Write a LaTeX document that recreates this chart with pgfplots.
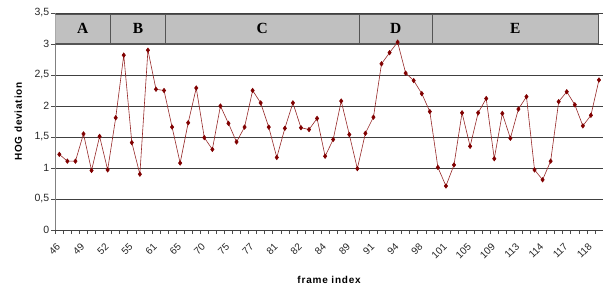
\documentclass[border=0pt]{standalone}
\usepackage{fontspec}
\setmainfont{Liberation Sans}
\newfontfamily\serifb{Liberation Serif}
\usepackage{pgfplots}
\pgfplotsset{compat=1.18}
\definecolor{dred}{RGB}{128,0,0}
\definecolor{dline}{RGB}{150,40,40}
\definecolor{bandgray}{RGB}{192,192,192}
\definecolor{bandedge}{RGB}{85,85,85}
\begin{document}
\begin{tikzpicture}
\path[use as bounding box] (-55.3pt,-62pt) rectangle (547.7pt,230pt);
\begin{axis}[
  at={(0,0)}, anchor=south west,
  scale only axis, width=547.7pt, height=217pt,
  xmin=-0.5, xmax=67.5, ymin=0, ymax=3.5,
  axis x line*=bottom, axis y line*=left,
  x axis line style={black!75, line width=0.8pt},
  y axis line style={gray, line width=1pt},
  tick align=outside,
  ytick={0,0.5,...,3.5},
  ymajorgrids, grid style={black!75, line width=0.6pt},
  major tick length=4pt, minor tick length=4pt,
  ytick style={black!70, line width=0.6pt},
  /pgf/number format/use comma,
  /pgf/number format/assume math mode=true,
  yticklabel style={font=\fontsize{10.5}{12}\selectfont, text=black!85, inner sep=2pt},
  xtick={0,3,...,66},
  xticklabels={46,49,52,55,61,65,70,75,77,81,82,84,89,91,94,98,101,105,109,113,114,117,118},
  major x tick style={draw=none},
  minor xtick={-0.5,0.5,...,67.5},
  minor x tick style={black!70, line width=0.6pt},
  xticklabel style={font=\fontsize{10}{12}\selectfont, rotate=45, anchor=east, inner sep=1pt, text=black!85},
  xticklabel shift=10pt,
  every axis y label/.style={at={(axis description cs:-0.0676,0.5)}, rotate=90, anchor=center,
     font=\bfseries\fontsize{10}{12}\selectfont\addfontfeature{LetterSpace=8}},
  every axis x label/.style={at={(axis description cs:0.5,-0.2304)}, anchor=center,
     font=\bfseries\fontsize{10}{12}\selectfont\addfontfeature{LetterSpace=8}},
  ylabel={HOG deviation},
  xlabel={frame index},
]
% band
\fill[bandgray] (axis cs:-0.5,3.0) rectangle (axis cs:66.87,3.485);
\draw[bandedge, line width=0.7pt] (axis cs:-0.5,3.485) -- (axis cs:66.87,3.485) -- (axis cs:66.87,3.0);
\draw[bandedge, line width=1.2pt] (axis cs:-0.5,3.0) -- (axis cs:66.87,3.0);
\draw[bandedge, line width=0.7pt] (axis cs:6.33,3.0) -- (axis cs:6.33,3.485);
\draw[bandedge, line width=0.7pt] (axis cs:13.21,3.0) -- (axis cs:13.21,3.485);
\draw[bandedge, line width=0.7pt] (axis cs:37.2,3.0) -- (axis cs:37.2,3.485);
\draw[bandedge, line width=0.7pt] (axis cs:46.3,3.0) -- (axis cs:46.3,3.485);
\node[font=\serifb\bfseries\fontsize{15.5}{16}\selectfont] at (axis cs:2.92,3.245) {A};
\node[font=\serifb\bfseries\fontsize{15.5}{16}\selectfont] at (axis cs:9.77,3.245) {B};
\node[font=\serifb\bfseries\fontsize{15.5}{16}\selectfont] at (axis cs:25.2,3.245) {C};
\node[font=\serifb\bfseries\fontsize{15.5}{16}\selectfont] at (axis cs:41.75,3.245) {D};
\node[font=\serifb\bfseries\fontsize{15.5}{16}\selectfont] at (axis cs:56.6,3.245) {E};
\addplot[color=dline, line width=0.6pt, mark=diamond*, mark size=2.2pt,
  mark options={fill=dred, draw=dred, solid}] table[x=i, y=v] {
i v
0 1.22
1 1.11
2 1.11
3 1.55
4 0.96
5 1.51
6 0.97
7 1.81
8 2.82
9 1.41
10 0.90
11 2.90
12 2.27
13 2.25
14 1.66
15 1.08
16 1.73
17 2.29
18 1.49
19 1.30
20 2.00
21 1.72
22 1.42
23 1.66
24 2.25
25 2.05
26 1.66
27 1.17
28 1.64
29 2.05
30 1.65
31 1.62
32 1.80
33 1.19
34 1.46
35 2.08
36 1.54
37 0.99
38 1.56
39 1.82
40 2.68
41 2.86
42 3.03
43 2.53
44 2.41
45 2.20
46 1.91
47 1.01
48 0.71
49 1.05
50 1.89
51 1.35
52 1.89
53 2.12
54 1.15
55 1.88
56 1.48
57 1.95
58 2.15
59 0.97
60 0.81
61 1.11
62 2.07
63 2.23
64 2.02
65 1.68
66 1.85
67 2.42
};
\end{axis}
\end{tikzpicture}
\end{document}
